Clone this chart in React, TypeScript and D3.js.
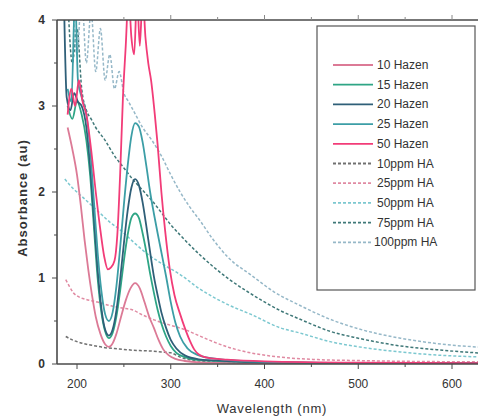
import React from "react";
import * as d3 from "d3";

// UV-Vis absorbance spectra: Hazen colour standards and humic acid (HA) solutions
type Pt = [number, number];

const hazen10: Pt[] = [[190,2.75],[195,2.5],[200,2.2],[204,1.85],[208,1.45],[212,1.1],[216,0.8],[220,0.55],[225,0.35],[230,0.23],[234,0.2],[238,0.24],[242,0.35],[247,0.55],[252,0.74],[257,0.88],[262,0.94],[267,0.88],[272,0.72],[277,0.55],[282,0.42],[287,0.28],[292,0.17],[298,0.1],[305,0.06],[315,0.035],[330,0.02],[400,0.01],[500,0.005],[640,0.003]];
const hazen15: Pt[] = [[190,3.0],[195,2.85],[200,3.05],[205,2.9],[210,2.6],[214,2.2],[218,1.6],[222,1.0],[226,0.6],[230,0.38],[234,0.3],[238,0.36],[242,0.55],[246,0.85],[250,1.2],[254,1.5],[258,1.7],[262,1.75],[266,1.7],[270,1.52],[274,1.3],[278,1.05],[282,0.83],[286,0.63],[290,0.47],[295,0.32],[300,0.21],[306,0.13],[315,0.08],[330,0.045],[360,0.03],[400,0.018],[500,0.01],[640,0.006]];
const hazen20: Pt[] = [[186,4.3],[189,3.1],[193,2.95],[197,3.15],[201,3.05],[205,3.0],[210,2.75],[214,2.3],[218,1.7],[222,1.1],[226,0.65],[230,0.4],[234,0.33],[238,0.4],[242,0.62],[246,0.98],[250,1.4],[254,1.78],[258,2.05],[262,2.15],[266,2.08],[270,1.88],[274,1.6],[278,1.3],[282,1.02],[286,0.8],[290,0.6],[295,0.42],[300,0.28],[306,0.18],[315,0.1],[330,0.055],[360,0.035],[400,0.02],[500,0.01],[640,0.006]];
const hazen25: Pt[] = [[190,3.2],[194,3.05],[198,4.3],[201,3.3],[205,3.1],[210,2.9],[214,2.5],[218,1.9],[222,1.3],[226,0.85],[230,0.58],[234,0.5],[238,0.6],[242,0.9],[246,1.35],[250,1.85],[254,2.3],[258,2.65],[262,2.8],[266,2.76],[270,2.58],[274,2.3],[278,2.0],[282,1.75],[286,1.52],[290,1.3],[295,1.02],[300,0.72],[305,0.48],[310,0.32],[318,0.18],[330,0.1],[345,0.065],[370,0.04],[400,0.025],[500,0.012],[640,0.008]];
const hazen50: Pt[] = [[190,2.9],[194,3.2],[198,3.0],[202,3.3],[206,3.05],[210,2.9],[215,2.5],[220,2.0],[225,1.55],[229,1.25],[233,1.1],[236,1.12],[240,1.2],[243,1.5],[246,2.2],[249,3.1],[252,3.7],[255,4.3],[258,3.8],[261,3.6],[264,4.3],[267,3.7],[270,4.3],[273,3.8],[276,3.5],[279,3.3],[283,2.9],[286,2.55],[290,2.0],[294,1.55],[299,1.1],[304,0.8],[310,0.58],[315,0.42],[320,0.28],[325,0.17],[330,0.11],[340,0.07],[360,0.05],[400,0.03],[500,0.015],[640,0.01]];

const ha10: Pt[] = [[188,0.32],[195,0.28],[200,0.26],[210,0.23],[220,0.21],[230,0.19],[240,0.18],[250,0.17],[260,0.16],[270,0.155],[280,0.15],[290,0.14],[300,0.13],[310,0.08],[320,0.05],[340,0.028],[370,0.016],[400,0.01],[500,0.005],[640,0.003]];
const ha25: Pt[] = [[188,0.98],[192,0.9],[196,0.83],[202,0.78],[210,0.75],[222,0.72],[235,0.68],[248,0.65],[259,0.63],[270,0.57],[283,0.51],[300,0.45],[315,0.4],[330,0.33],[345,0.26],[363,0.19],[390,0.12],[417,0.08],[459,0.05],[500,0.04],[560,0.03],[640,0.025]];
const ha50: Pt[] = [[187,2.15],[195,2.05],[205,1.95],[215,1.85],[225,1.75],[235,1.65],[246,1.56],[260,1.42],[275,1.28],[290,1.17],[310,1.04],[330,0.88],[363,0.68],[385,0.58],[417,0.42],[438,0.36],[470,0.26],[500,0.2],[545,0.14],[590,0.1],[640,0.08]];
const ha75: Pt[] = [[190,4.3],[195,3.5],[200,3.9],[205,3.2],[210,2.95],[215,2.85],[220,2.75],[230,2.6],[240,2.42],[250,2.28],[260,2.14],[270,2.02],[280,1.9],[290,1.76],[300,1.62],[310,1.5],[331,1.27],[363,0.98],[385,0.82],[417,0.62],[438,0.52],[470,0.38],[500,0.3],[545,0.21],[590,0.16],[640,0.12]];
const ha100: Pt[] = [[195,4.3],[200,3.6],[205,4.3],[210,3.5],[215,4.1],[220,3.4],[225,3.9],[230,3.3],[235,3.6],[240,3.2],[245,3.4],[250,3.15],[255,3.05],[260,2.95],[270,2.75],[280,2.6],[290,2.42],[300,2.2],[310,2.0],[320,1.83],[331,1.67],[345,1.45],[363,1.22],[385,1.04],[410,0.84],[438,0.68],[470,0.52],[500,0.41],[545,0.3],[590,0.23],[640,0.19]];

const seriesNames = ["10 Hazen","15 Hazen","20 Hazen","25 Hazen","50 Hazen","10ppm HA","25ppm HA","50ppm HA","75ppm HA","100ppm HA"];
const seriesData = [hazen10, hazen15, hazen20, hazen25, hazen50, ha10, ha25, ha50, ha75, ha100];
const seriesColors = ["#dc7a96","#2ea585","#2f5f78","#3c9ea6","#f23c78","#707070","#e08aa2","#7cc8d0","#3f7878","#96b8c8"];
const seriesDashed = [false,false,false,false,false,true,true,true,true,true];

const xMajor = [200, 300, 400, 500, 600];
const xMinor = [250, 350, 450, 550];
const yMajor = [0, 1, 2, 3, 4];
const yMinor = [0.5, 1.5, 2.5, 3.5];

export default function App() {
  const W = 478, H = 420;
  const left = 57, right = 478, top = 20, bottom = 364;
  const x = d3.scaleLinear().domain([200, 600]).range([77, 452]);
  const y = d3.scaleLinear().domain([0, 4]).range([bottom, top]);
  const line = d3.line<Pt>().x(d => x(d[0])).y(d => y(d[1])).curve(d3.curveMonotoneX);
  const axisColor = "#4a4a4a";
  const font = "Liberation Sans, Arial, sans-serif";
  const topTicks = d3.range(250, 651, 50);

  const drawOrder = [5, 6, 7, 8, 9, 0, 1, 2, 3, 4];

  return (
    <svg width={W} height={H} style={{ position: "absolute", left: 0, top: 0, background: "#fff" }}>
      <defs>
        <clipPath id="plot">
          <rect x={left} y={top} width={right - left} height={bottom - top} />
        </clipPath>
      </defs>
      <rect x={0} y={0} width={W} height={H} fill="#fff" />
      <g clipPath="url(#plot)">
        {drawOrder.map(i => (
          <path key={i} d={line(seriesData[i]) || ""} fill="none" stroke={seriesColors[i]}
            strokeWidth={seriesDashed[i] ? 1.5 : 1.8}
            strokeDasharray={seriesDashed[i] ? "3,2" : undefined} />
        ))}
      </g>
      {/* frame */}
      <line x1={left} x2={right} y1={bottom} y2={bottom} stroke={axisColor} strokeWidth={1.6} />
      <line x1={left} x2={right} y1={top} y2={top} stroke={axisColor} strokeWidth={1.6} />
      <line x1={left} x2={left} y1={top} y2={bottom} stroke={axisColor} strokeWidth={1.6} />
      {/* x ticks */}
      {xMajor.map(v => (
        <g key={"xm" + v}>
          <line x1={x(v)} x2={x(v)} y1={bottom} y2={bottom + 5} stroke={axisColor} strokeWidth={1} />
          <text x={x(v)} y={bottom + 24} textAnchor="middle" fontFamily={font} fontSize={12} fill="#333">{v}</text>
        </g>
      ))}
      {xMinor.map(v => (
        <line key={"xn" + v} x1={x(v)} x2={x(v)} y1={bottom} y2={bottom + 3} stroke={axisColor} strokeWidth={1} />
      ))}
      {topTicks.map(v => (
        <line key={"xt" + v} x1={x(v)} x2={x(v)} y1={top} y2={top - (v % 100 === 0 ? 5 : 3)} stroke="#888" strokeWidth={1} />
      ))}
      {/* y ticks */}
      {yMajor.map(v => (
        <g key={"ym" + v}>
          <line x1={left - 5} x2={left} y1={y(v)} y2={y(v)} stroke={axisColor} strokeWidth={1} />
          <text x={left - 12} y={y(v) + 4} textAnchor="end" fontFamily={font} fontSize={12} fontWeight="bold" fill="#333">{v}</text>
        </g>
      ))}
      {yMinor.map(v => (
        <line key={"yn" + v} x1={left - 3} x2={left} y1={y(v)} y2={y(v)} stroke={axisColor} strokeWidth={1} />
      ))}
      {/* axis titles */}
      <text x={272} y={413} textAnchor="middle" fontFamily={font} fontSize={13} letterSpacing={0.8} fill="#333">Wavelength (nm)</text>
      <text transform={`translate(27,${(top + bottom) / 2 + 6}) rotate(-90)`} textAnchor="middle" fontFamily={font} fontSize={13} fontWeight="bold" letterSpacing={1} fill="#333">Absorbance (au)</text>
      {/* legend */}
      <rect x={317} y={26} width={158} height={264} fill="#fff" stroke="#555" strokeWidth={1.2} />
      {seriesNames.map((name, i) => {
        const ly = 65 + i * 19.7;
        return (
          <g key={name}>
            <line x1={333} x2={373} y1={ly} y2={ly} stroke={seriesColors[i]} strokeWidth={1.8}
              strokeDasharray={seriesDashed[i] ? "3,2" : undefined} />
            <text x={i >= 9 ? 374 : 377} y={ly + 4} fontFamily={font} fontSize={12} fill="#333">{name}</text>
          </g>
        );
      })}
    </svg>
  );
}
